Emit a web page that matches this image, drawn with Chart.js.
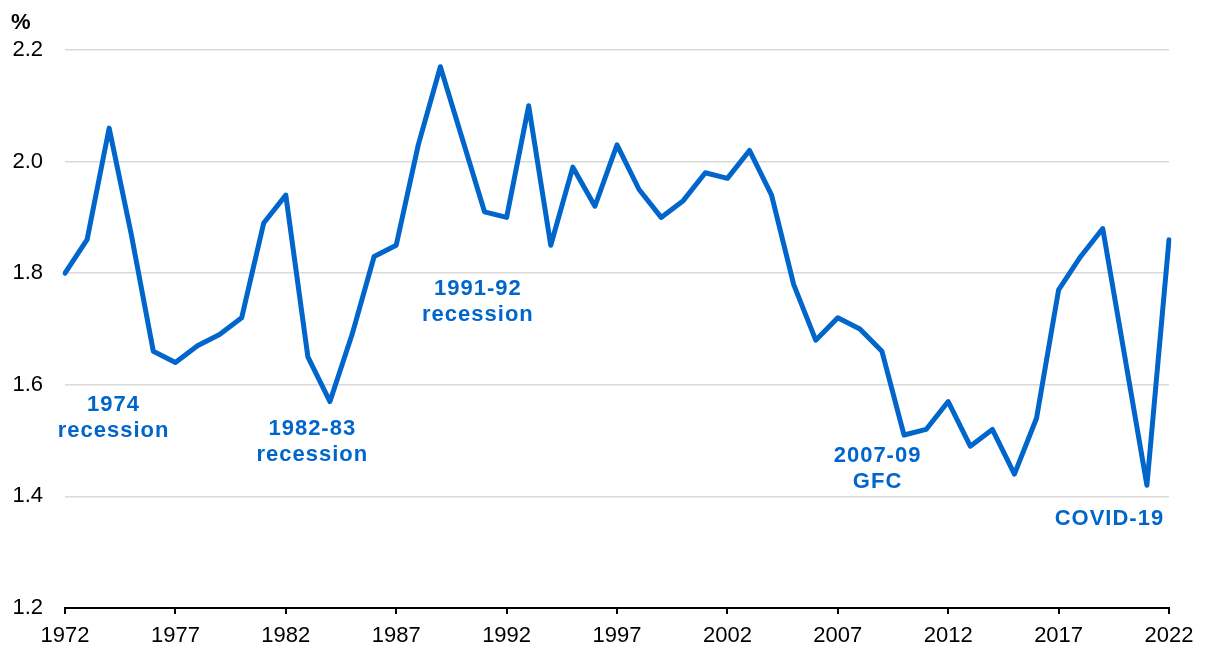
<!DOCTYPE html>
<html>
<head>
<meta charset="utf-8">
<script src="https://cdn.jsdelivr.net/npm/chart.js@4"></script>
<style>
  html, body { margin: 0; padding: 0; background: #fff; }
  #wrap { width: 1206px; height: 648px; position: relative; }
</style>
</head>
<body>
<div id="wrap"><canvas id="chart"></canvas></div>
<script>
// years on the x axis
const years = [];
for (let y = 1972; y <= 2022; y++) years.push(y);

// series, %
const values = [
  1.80, 1.86, 2.06, 1.87, 1.66, 1.64, 1.67, 1.69, 1.72, 1.89,
  1.94, 1.65, 1.57, 1.69, 1.83, 1.85, 2.03, 2.17, 2.04, 1.91,
  1.90, 2.10, 1.85, 1.99, 1.92, 2.03, 1.95, 1.90, 1.93, 1.98,
  1.97, 2.02, 1.94, 1.78, 1.68, 1.72, 1.70, 1.66, 1.51, 1.52,
  1.57, 1.49, 1.52, 1.44, 1.54, 1.77, 1.83, 1.88, 1.65, 1.42,
  1.86
];

const yTicks = [1.2, 1.4, 1.6, 1.8, 2.0, 2.2];
const xTickEvery = 5;

// text notes, anchored in data space (year, value of first line)
const notes = [
  { year: 1974.2, value: 1.564, lines: ['1974', 'recession'] },
  { year: 1983.2, value: 1.521, lines: ['1982-83', 'recession'] },
  { year: 1990.7, value: 1.771, lines: ['1991-92', 'recession'] },
  { year: 2008.8, value: 1.473, lines: ['2007-09', 'GFC'] },
  { year: 2019.3, value: 1.359, lines: ['COVID-19'] }
];

const BLUE = '#0066cc';
const FONT = '"Liberation Sans", Arial, sans-serif';

const notesPlugin = {
  id: 'notes',
  afterDatasetsDraw(chart) {
    const ctx = chart.ctx;
    const xs = chart.scales.x, ys = chart.scales.y;
    ctx.save();
    ctx.fillStyle = BLUE;
    ctx.font = 'bold 22px ' + FONT;
    ctx.letterSpacing = '1px';
    ctx.textAlign = 'center';
    ctx.textBaseline = 'middle';
    notes.forEach(n => {
      // category scale: index offset from first year
      const px = xs.getPixelForValue(n.year - years[0]);
      const py = ys.getPixelForValue(n.value);
      n.lines.forEach((t, i) => ctx.fillText(t, px, py + i * 26));
    });
    // unit label
    ctx.letterSpacing = '0px';
    ctx.fillStyle = '#000';
    ctx.font = 'bold 22px ' + FONT;
    ctx.textAlign = 'left';
    ctx.fillText('%', 11, 23);
    ctx.restore();
  }
};

new Chart(document.getElementById('chart'), {
  type: 'line',
  data: {
    labels: years,
    datasets: [{
      data: values,
      borderColor: BLUE,
      borderWidth: 5,
      pointRadius: 0,
      tension: 0,
      fill: false,
      borderJoinStyle: 'round',
      borderCapStyle: 'round'
    }]
  },
  options: {
    responsive: true,
    maintainAspectRatio: false,
    animation: false,
    layout: { padding: { top: 50, right: 37, left: 0, bottom: 0 } },
    plugins: { legend: { display: false }, tooltip: { enabled: false } },
    scales: {
      x: {
        type: 'category',
        offset: false,
        afterBuildTicks: s => { s.ticks = s.ticks.filter(t => years[t.value] % xTickEvery === 2); },
        afterFit: s => { s.height = 40; },
        grid: { drawOnChartArea: false, color: '#000', lineWidth: 2, tickLength: 6 },
        border: { color: '#000', width: 2 },
        ticks: {
          autoSkip: false, maxRotation: 0, padding: 9,
          color: '#000', font: { family: FONT, size: 22 },
          callback: function (v) { return String(years[v]); }
        }
      },
      y: {
        min: 1.2, max: 2.2,
        afterBuildTicks: s => { s.ticks = yTicks.map(v => ({ value: v })); },
        afterFit: s => { s.width = 65; },
        grid: { color: '#d9d9d9', lineWidth: 1.5, drawTicks: false },
        border: { display: false },
        ticks: {
          padding: 22, color: '#000', font: { family: FONT, size: 22 },
          callback: v => v.toFixed(1)
        }
      }
    }
  },
  plugins: [notesPlugin]
});
</script>
</body>
</html>
